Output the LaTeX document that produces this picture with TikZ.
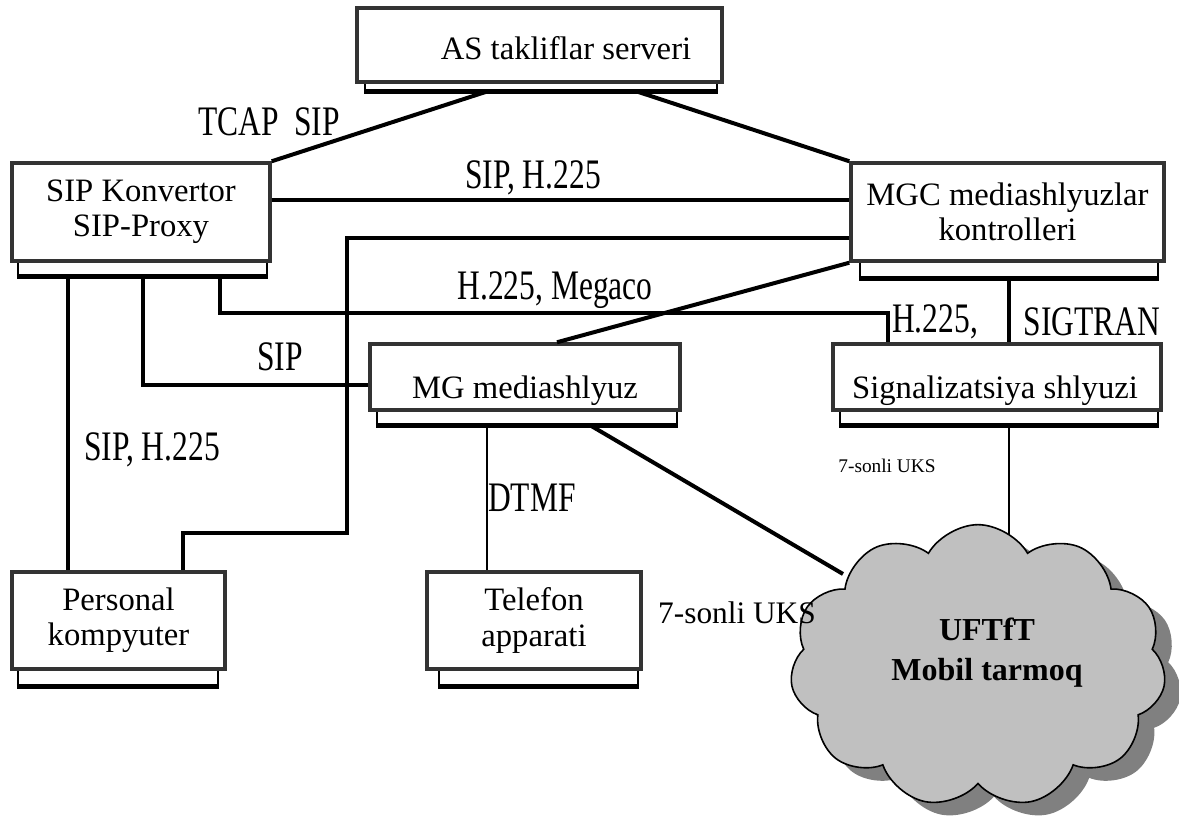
\documentclass[tikz,border=0pt]{standalone}
\usepackage{fontspec}
\usepackage{graphicx}
\setmainfont{Liberation Serif}
\usetikzlibrary{shapes.symbols,calc}
\definecolor{boxgray}{HTML}{333333}
\definecolor{cloudgray}{HTML}{C0C0C0}
\definecolor{shadowgray}{HTML}{808080}
\newcommand\boxfont{\fontsize{24.5}{26.5}\selectfont}
\newcommand\lblfont{\fontsize{31.5}{33}\selectfont}
\newcommand\smallfont{\fontsize{14.5}{16}\selectfont}
\newcommand\midfont{\fontsize{23.5}{25}\selectfont}
\newcommand\cloudfont{\fontsize{24}{30}\selectfont\bfseries}
\newcommand\nar[1]{\scalebox{0.75}[1]{#1}}
\begin{document}
\begin{tikzpicture}[x=0.75pt,y=-0.75pt,
  front/.style={draw=boxgray, line width=2.6pt, fill=white, inner sep=0pt, align=center, font=\boxfont},
  back/.style={draw=black, line width=1.8pt, fill=white, inner sep=0pt, minimum height=22.5pt},
  conn/.style={line width=3pt},
  thinconn/.style={line width=1.8pt},
  lbl/.style={inner sep=0pt, font=\lblfont},
  cloudshape/.style={cloud, cloud puffs=11, cloud puff arc=120, aspect=1.33, minimum width=282pt, minimum height=212pt, inner sep=0pt},
]
\useasboundingbox (0,0) rectangle (1179,823);

% helper coordinates
\coordinate (x68) at (68,0);
\coordinate (x143) at (143,0);
\coordinate (x183) at (183,0);
\coordinate (x220) at (220,0);
\coordinate (x347) at (347,0);
\coordinate (x487) at (487,0);
\coordinate (x488) at (488,0);
\coordinate (x557) at (557,0);
\coordinate (x590) at (590,0);
\coordinate (x636) at (636,0);
\coordinate (x888) at (888,0);
\coordinate (x1009) at (1009,0);
\coordinate (y200) at (0,200);
\coordinate (y238) at (0,238);
\coordinate (y313) at (0,313);
\coordinate (y385) at (0,385);
\coordinate (y533) at (0,533);
\coordinate (ucl) at (843,574);
\coordinate (ucl2) at (1009,540);

% back boxes
\node[back, minimum width=264pt] (asb) at (541,75) {};
\node[back, minimum width=186.75pt] (sipb) at (142.5,260) {};
\node[back, minimum width=223.5pt] (mgcb) at (1009,262) {};
\node[back, minimum width=225pt] (mgb) at (527,409) {};
\node[back, minimum width=238.5pt] (sigb) at (999,409) {};
\node[back, minimum width=150pt] (pcb) at (118,670) {};
\node[back, minimum width=149.25pt] (telb) at (538.5,670) {};
\foreach \b in {asb,sipb,mgcb,mgb,sigb,pcb,telb}
  \draw[line width=3.5pt] (\b.south west) -- (\b.south east);

% front boxes
\node[front, minimum width=273.75pt, minimum height=55.5pt] (as) at (539.5,45) {};
\node[front, minimum width=193.5pt, minimum height=73.5pt] (sip) at (141,212) {SIP Konvertor\\SIP-Proxy};
\node[front, minimum width=234.75pt, minimum height=73.5pt] (mgc) at (1007.5,212) {MGC mediashlyuzlar\\kontrolleri};
\node[front, minimum width=232.5pt, minimum height=49.5pt] (mg) at (525,377) {};
\node[front, minimum width=246pt, minimum height=49.5pt] (sig) at (997,377) {};
\node[front, minimum width=159.75pt, minimum height=72.75pt] (pc) at (118.5,620.5) {Personal\\kompyuter};
\node[front, minimum width=160.5pt, minimum height=72.75pt] (tel) at (534,620.5) {Telefon\\apparati};
\node[inner sep=0pt, font=\boxfont] (ast) at (566,48) {AS takliflar serveri};
\node[inner sep=0pt, font=\boxfont] (mgt) at (525,391) {MG mediashlyuz};
\node[inner sep=0pt, font=\boxfont] (sigt) at (995,391) {Signalizatsiya shlyuzi};

% connectors
\draw[conn] (sip.north east) -- (asb.south -| x488);
\draw[conn] (asb.south -| x636) -- (mgc.north west);
\draw[conn] (sip.east |- y200) -- (mgc.west |- y200);
\draw[conn] (mgc.west |- y238) -- (x347 |- y238) -- (x347 |- y533) -- (x183 |- y533) -- (pc.north -| x183);
\draw[conn] (sipb.south -| x68) -- (pc.north -| x68);
\draw[conn] (sipb.south -| x143) -- (x143 |- y385) -- (mg.west |- y385);
\draw[conn] (sipb.south -| x220) -- (x220 |- y313) -- (x888 |- y313) -- (sig.north -| x888);
\draw[conn] (mgcb.south -| x1009) -- (sig.north -| x1009);
\draw[conn] (mgc.south west) -- (mg.north -| x557);
\draw[thinconn] (mgb.south -| x487) -- (tel.north -| x487);
\draw[conn] (mgb.south -| x590) -- (ucl);
\draw[thinconn] (sigb.south -| x1009) -- (ucl2);

% cloud
\node[cloudshape, fill=shadowgray] (cloudsh) at (994,679) {};
\node[cloudshape, fill=cloudgray, draw=black, line width=1.2pt] (cloud) at (978,666) {};
\node[inner sep=0pt, align=center, font=\cloudfont] (cloudtxt) at (987,653) {UFTfT\\Mobil tarmoq};

% labels
\node[lbl] (l1) at (269,122) {\nar{TCAP~~SIP}};
\node[lbl] (l2) at (533,178) {\nar{SIP, H.225}};
\node[lbl] (l3) at (555,290) {\nar{H.225, Megaco}};
\node[lbl] (l4) at (280,357) {\nar{SIP}};
\node[lbl] (l5) at (152,450) {\nar{SIP, H.225}};
\node[lbl] (l6) at (532,498) {\nar{DTMF}};
\node[lbl] (l7) at (935,322) {\nar{H.225,}};
\node[lbl] (l8) at (1092,322) {\nar{SIGTRAN}};
\node[inner sep=0pt, font=\smallfont] (l9) at (887,466) {7-sonli UKS};
\node[inner sep=0pt, font=\midfont] (l10) at (737,613) {7-sonli UKS};
\end{tikzpicture}
\end{document}
